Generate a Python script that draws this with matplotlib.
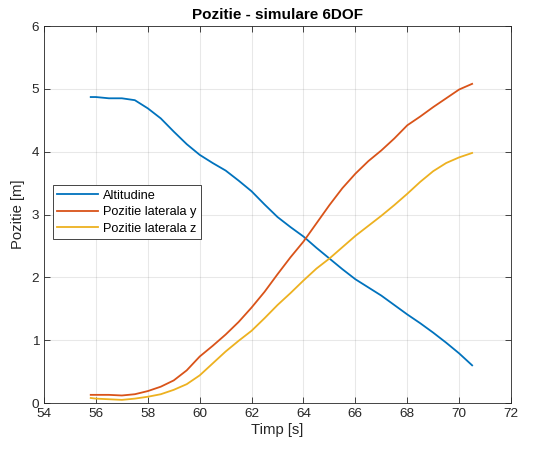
import matplotlib
matplotlib.use("Agg")
import matplotlib.pyplot as plt

plt.rcParams["font.family"] = ["Liberation Sans", "DejaVu Sans"]

# Simulation time [s]
timp = [55.8, 56.0, 56.5, 57.0, 57.5, 58.0, 58.5, 59.0, 59.5, 60.0, 60.5,
        61.0, 61.5, 62.0, 62.5, 63.0, 63.5, 64.0, 64.5, 65.0, 65.5, 66.0,
        66.5, 67.0, 67.5, 68.0, 68.5, 69.0, 69.5, 70.0, 70.5]

altitudine = [4.87, 4.87, 4.85, 4.85, 4.82, 4.69, 4.53, 4.32, 4.12, 3.95, 3.82,
              3.70, 3.54, 3.37, 3.16, 2.96, 2.80, 2.65, 2.47, 2.30, 2.13, 1.97,
              1.84, 1.71, 1.56, 1.41, 1.27, 1.12, 0.96, 0.79, 0.60]

lateral_y = [0.13, 0.13, 0.13, 0.12, 0.14, 0.19, 0.26, 0.36, 0.52, 0.74, 0.91,
             1.09, 1.29, 1.52, 1.77, 2.05, 2.32, 2.57, 2.86, 3.15, 3.42, 3.65,
             3.85, 4.02, 4.21, 4.42, 4.56, 4.71, 4.85, 4.99, 5.08]

lateral_z = [0.08, 0.07, 0.06, 0.05, 0.07, 0.10, 0.14, 0.21, 0.30, 0.44, 0.63,
             0.82, 0.99, 1.15, 1.35, 1.56, 1.75, 1.95, 2.14, 2.30, 2.48, 2.66,
             2.82, 2.98, 3.15, 3.33, 3.52, 3.69, 3.82, 3.91, 3.98]

X_TICKS = list(range(54, 73, 2))
Y_TICKS = list(range(0, 7))

fig = plt.figure(figsize=(5.33, 4.49), dpi=100)
ax = fig.add_axes([0.0826, 0.1024, 0.8762, 0.8396])

ax.plot(timp, altitudine, color="#0072BD", linewidth=1.3, label="Altitudine")
ax.plot(timp, lateral_y, color="#D95319", linewidth=1.3, label="Pozitie laterala y")
ax.plot(timp, lateral_z, color="#EDB120", linewidth=1.3, label="Pozitie laterala z")

ax.set_xlim(54, 72)
ax.set_ylim(0, 6)
ax.set_xticks(X_TICKS)
ax.set_yticks(Y_TICKS)
ax.tick_params(direction="in", top=True, right=True, length=4, width=0.6,
               colors="#262626", labelsize=9.7, labelcolor="#262626")
ax.grid(True, color="#262626", alpha=0.1, linewidth=0.8)
for sp in ax.spines.values():
    sp.set_color("#262626")
    sp.set_linewidth(0.6)

ax.set_xlabel("Timp [s]", fontsize=10.7, color="#262626", labelpad=2)
ax.set_ylabel("Pozitie [m]", fontsize=10.7, color="#262626", labelpad=5)
ax.set_title("Pozitie - simulare 6DOF", fontsize=11, fontweight="bold",
             color="black", pad=5)

leg = ax.legend(loc="upper left", bbox_to_anchor=(0.019, 0.578), fontsize=9.2,
                frameon=True, fancybox=False, borderpad=0.35, labelspacing=0.35,
                handlelength=3.2, handletextpad=0.4, borderaxespad=0)
leg.get_frame().set_edgecolor("#262626")
leg.get_frame().set_linewidth(0.6)
leg.get_frame().set_alpha(1)

fig.savefig("out.png", dpi=100)
